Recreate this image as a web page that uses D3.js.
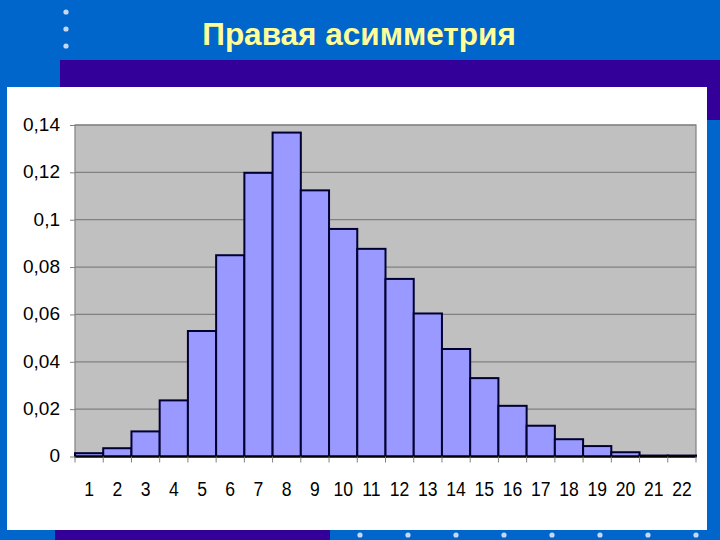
<!DOCTYPE html>
<html><head><meta charset="utf-8">
<script src="https://cdn.jsdelivr.net/npm/d3@7"></script>
<style>html,body{margin:0;padding:0;background:#0066CC;}svg{display:block;}</style>
</head><body>
<svg id="c" width="720" height="540"></svg>
<script>
const title = "Правая асимметрия";
const categories = ["1","2","3","4","5","6","7","8","9","10","11","12","13","14","15","16","17","18","19","20","21","22"];
const values = [0.0014,0.0035,0.0106,0.0237,0.053,0.085,0.1198,0.1368,0.1124,0.0961,0.0877,0.075,0.0604,0.0454,0.0331,0.0214,0.013,0.0073,0.0044,0.0018,0.0004,0.0004];
const yTicks = [0,0.02,0.04,0.06,0.08,0.1,0.12,0.14];

const svg = d3.select("#c");
// slide background
svg.append("rect").attr("x",0).attr("y",0).attr("width",720).attr("height",540).attr("fill","#0066CC");
svg.append("rect").attr("x",60).attr("y",60).attr("width",660).attr("height",60).attr("fill","#330099");
svg.append("rect").attr("x",55).attr("y",528).attr("width",275).attr("height",12).attr("fill","#330099");
svg.append("rect").attr("x",7).attr("y",87).attr("width",700).attr("height",443).attr("fill","#FFFFFF");

// decorative dots
[12,29,46].forEach(cy=>svg.append("circle").attr("cx",66).attr("cy",cy).attr("r",2.6).attr("fill","#C8D8F0"));
d3.range(8).forEach(i=>svg.append("circle").attr("cx",360+i*48).attr("cy",535).attr("r",2.6).attr("fill","#C8D8F0"));

svg.append("text").attr("x",359).attr("y",45).attr("text-anchor","middle")
  .attr("font-family","Liberation Sans, Arial, sans-serif").attr("font-weight","bold")
  .attr("font-size",31.5).attr("fill","#FFFF99").text(title);

const pLeft=75,pRight=696,pTop=125,pBottom=456.5;
const x = d3.scaleBand().domain(categories).range([pLeft,pRight]).padding(0);
const y = d3.scaleLinear().domain([0,0.14]).range([pBottom,pTop]);

const g = svg.append("g");
g.append("rect").attr("x",pLeft).attr("y",pTop).attr("width",pRight-pLeft).attr("height",pBottom-pTop)
  .attr("fill","#C0C0C0").attr("stroke","#808080").attr("stroke-width",1.2);

// gridlines
g.selectAll("line.grid").data(yTicks.filter(d=>d>0)).enter().append("line")
  .attr("x1",pLeft).attr("x2",pRight).attr("y1",d=>y(d)).attr("y2",d=>y(d))
  .attr("stroke","#808080").attr("stroke-width",1.2);

// bars
g.selectAll("rect.bar").data(values).enter().append("rect")
  .attr("x",(d,i)=>x(categories[i])).attr("width",x.bandwidth())
  .attr("y",d=>y(d)).attr("height",d=>y(0)-y(d))
  .attr("fill","#9999FF").attr("stroke","#000033").attr("stroke-width",2);

// baseline
g.append("line").attr("x1",pLeft).attr("x2",pRight).attr("y1",y(0)).attr("y2",y(0))
  .attr("stroke","#000000").attr("stroke-width",2);

// y axis
const fmt = d => d===0 ? "0" : String(+d.toFixed(2)).replace(".",",");
const ya = svg.append("g").attr("transform",`translate(${pLeft},0)`)
  .call(d3.axisLeft(y).tickValues(yTicks).tickFormat(fmt).tickSize(5).tickPadding(10));
ya.select(".domain").remove();
ya.selectAll(".tick line").attr("stroke","#808080");
ya.selectAll("text").attr("font-family","Liberation Sans, Arial, sans-serif").attr("font-size",19)
  .attr("fill","#000").attr("dy","0.28em");

// x axis
const xa = svg.append("g").attr("transform",`translate(0,${pBottom})`)
  .call(d3.axisBottom(x).tickSize(0).tickPadding(26));
xa.select(".domain").remove();
xa.selectAll("text").attr("font-family","Liberation Sans, Arial, sans-serif").attr("font-size",19.5)
  .attr("fill","#000").attr("transform","scale(0.9,1)");

// boundary ticks
const bounds = categories.map(c=>x(c)).concat([x.range()[1]]);
svg.selectAll("line.xt").data(bounds).enter().append("line")
  .attr("x1",d=>d).attr("x2",d=>d).attr("y1",pBottom).attr("y2",pBottom+6)
  .attr("stroke","#808080").attr("stroke-width",1);
</script>
</body></html>
